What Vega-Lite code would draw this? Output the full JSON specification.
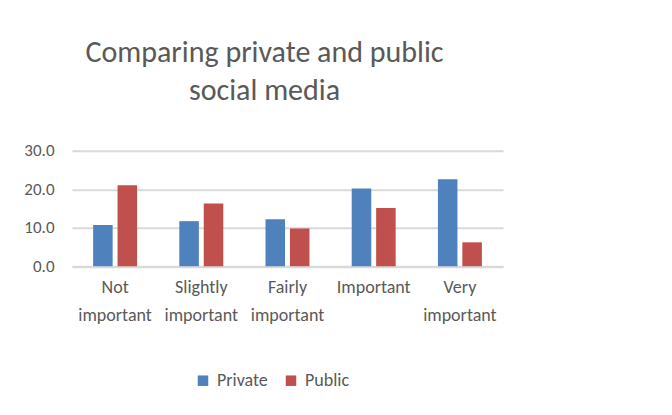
{
  "$schema": "https://vega.github.io/schema/vega-lite/v6.json",
  "autosize": "none",
  "width": 431,
  "height": 115.5,
  "padding": {"left": 72, "top": 150.7, "right": 169, "bottom": 148.8},
  "background": "white",
  "title": {
    "text": ["Comparing private and public", "social media"],
    "anchor": "middle",
    "frame": "group",
    "dx": -23,
    "offset": 36,
    "fontSize": 30,
    "lineHeight": 38,
    "font": "Carlito, Lato, sans-serif",
    "fontWeight": "normal",
    "color": "#595959"
  },
  "data": {
    "values": [
      {"category": "Not important", "group": "Private", "value": 10.7},
      {"category": "Not important", "group": "Public", "value": 21.0},
      {"category": "Slightly important", "group": "Private", "value": 11.7},
      {"category": "Slightly important", "group": "Public", "value": 16.3},
      {"category": "Fairly important", "group": "Private", "value": 12.2},
      {"category": "Fairly important", "group": "Public", "value": 9.8},
      {"category": "Important", "group": "Private", "value": 20.2},
      {"category": "Important", "group": "Public", "value": 15.1},
      {"category": "Very important", "group": "Private", "value": 22.6},
      {"category": "Very important", "group": "Public", "value": 6.2}
    ]
  },
  "mark": {"type": "bar"},
  "encoding": {
    "x": {
      "field": "category",
      "type": "nominal",
      "sort": null,
      "scale": {"paddingInner": 0.49, "paddingOuter": 0.245},
      "axis": {
        "title": null,
        "labelAngle": 0,
        "labelExpr": "split(datum.label, ' ')",
        "labelLineHeight": 28,
        "labelFontSize": 18,
        "labelFont": "Carlito, Lato, sans-serif",
        "labelColor": "#595959",
        "labelPadding": 12,
        "ticks": false,
        "domain": true,
        "domainColor": "#d9d9d9",
        "domainWidth": 2
      }
    },
    "xOffset": {
      "field": "group",
      "type": "nominal",
      "scale": {"paddingInner": 0.2}
    },
    "y": {
      "field": "value",
      "type": "quantitative",
      "scale": {"domain": [0, 30]},
      "axis": {
        "title": null,
        "values": [0, 10, 20, 30],
        "format": ".1f",
        "labelFontSize": 17,
        "labelFont": "Carlito, Lato, sans-serif",
        "labelColor": "#595959",
        "labelPadding": 18,
        "ticks": false,
        "domain": false,
        "grid": true,
        "gridColor": "#d9d9d9",
        "gridWidth": 2
      }
    },
    "color": {
      "field": "group",
      "type": "nominal",
      "scale": {"domain": ["Private", "Public"], "range": ["#4F81BD", "#C0504D"]},
      "legend": {
        "title": null,
        "orient": "none",
        "direction": "horizontal",
        "legendX": 122,
        "legendY": 221,
        "symbolType": "square",
        "symbolSize": 110,
        "symbolStrokeWidth": 0,
        "symbolOpacity": 1,
        "labelFontSize": 18,
        "labelFont": "Carlito, Lato, sans-serif",
        "labelColor": "#595959",
        "labelOffset": 5,
        "columnPadding": 14
      }
    }
  },
  "config": {
    "view": {"stroke": null}
  }
}
